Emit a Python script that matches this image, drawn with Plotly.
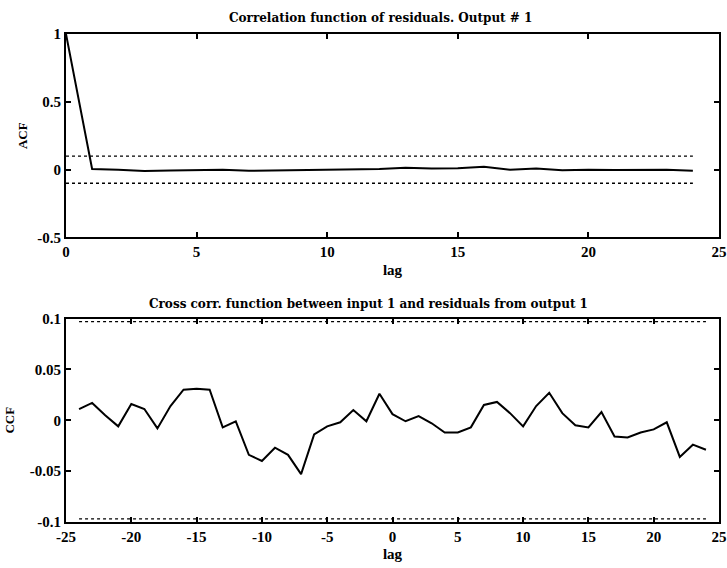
import plotly.graph_objects as go
from plotly.subplots import make_subplots

# --- data ---
ACF_LAGS = list(range(0, 25))
ACF_VALUES = [1.0, 0.005, 0.0, -0.01, -0.006, -0.004, 0.0, -0.008, -0.005, -0.005,
              -0.002, 0.003, 0.005, 0.015, 0.008, 0.01, 0.022, 0.0, 0.008, -0.004,
              0.0, -0.002, -0.002, 0.0, -0.008]
ACF_CONF = 0.1

CCF_LAGS = list(range(-24, 25))
CCF_VALUES = [0.011, 0.017, 0.005, -0.006, 0.016, 0.011, -0.008, 0.014, 0.030, 0.031,
              0.030, -0.007, -0.001, -0.034, -0.040, -0.027, -0.034, -0.053, -0.014, -0.006,
              -0.002, 0.010, -0.001, 0.026, 0.006, -0.001, 0.004, -0.003, -0.012, -0.012,
              -0.007, 0.015, 0.018, 0.007, -0.006, 0.014, 0.027, 0.007, -0.005, -0.007,
              0.008, -0.016, -0.017, -0.012, -0.009, -0.002, -0.036, -0.024, -0.029]
CCF_CONF = 0.097

TOP_XTICKS = [0, 5, 10, 15, 20, 25]
TOP_YTICKS = [-0.5, 0, 0.5, 1]
TOP_YTEXT = ["-0.5", "0", "0.5", "1"]
BOT_XTICKS = [-25, -20, -15, -10, -5, 0, 5, 10, 15, 20, 25]
BOT_XTEXT = ["-25", "-20", "-15", "-10", "-5", "0", "5", "10", "15", "20", "25"]
BOT_YTICKS = [-0.1, -0.05, 0, 0.05, 0.1]
BOT_YTEXT = ["-0.1", "-0.05", "0", "0.05", "0.1"]

TOP_TITLE = "Correlation function of residuals. Output # 1"
BOT_TITLE = "Cross corr. function between input 1 and residuals from output 1"

FONT = "Liberation Serif"
TITLE_FONT = "DejaVu Serif"
INK = "#000000"


def bold(labels):
    return [f"<b>{t}</b>" for t in labels]


fig = make_subplots(rows=2, cols=1, vertical_spacing=0.166)

# residual autocorrelation + confidence band
fig.add_trace(go.Scatter(x=ACF_LAGS, y=ACF_VALUES, mode="lines",
                         line=dict(color=INK, width=2)), row=1, col=1)
for c in (ACF_CONF, -ACF_CONF):
    fig.add_trace(go.Scatter(x=[ACF_LAGS[0], ACF_LAGS[-1]], y=[c, c], mode="lines",
                             line=dict(color=INK, width=1.3, dash="dot")), row=1, col=1)

# cross correlation + confidence band
fig.add_trace(go.Scatter(x=CCF_LAGS, y=CCF_VALUES, mode="lines",
                         line=dict(color=INK, width=2)), row=2, col=1)
for c in (CCF_CONF, -CCF_CONF):
    fig.add_trace(go.Scatter(x=[CCF_LAGS[0], CCF_LAGS[-1]], y=[c, c], mode="lines",
                             line=dict(color=INK, width=1.3, dash="dot")), row=2, col=1)

axis_common = dict(
    showline=True, linecolor=INK, linewidth=2, mirror="ticks",
    ticks="inside", ticklen=5, tickwidth=1.5, tickcolor=INK,
    showgrid=False, zeroline=False, automargin=False,
    tickfont=dict(family=FONT, size=15, color=INK),
)
fig.update_xaxes(ticklabeloverflow="allow", **axis_common)
fig.update_yaxes(**axis_common)

lag_font = dict(family=FONT, size=15, color=INK)
ylab_font = dict(family=FONT, size=13, color=INK)

fig.update_xaxes(range=[0, 25], tickvals=TOP_XTICKS, ticktext=bold(TOP_XTICKS),
                 title=dict(text="<b>lag</b>", standoff=5, font=lag_font), row=1, col=1)
fig.update_yaxes(range=[-0.5, 1], tickvals=TOP_YTICKS, ticktext=bold(TOP_YTEXT),
                 title=dict(text="<b>ACF</b>", standoff=7, font=ylab_font), row=1, col=1)
fig.update_xaxes(range=[-25, 25], tickvals=BOT_XTICKS, ticktext=bold(BOT_XTEXT),
                 title=dict(text="<b>lag</b>", standoff=4, font=lag_font), row=2, col=1)
fig.update_yaxes(range=[-0.1, 0.1], tickvals=BOT_YTICKS, ticktext=bold(BOT_YTEXT),
                 title=dict(text="<b>CCF</b>", standoff=12, font=ylab_font), row=2, col=1)

fig.update_layout(
    width=727, height=568,
    margin=dict(l=66, r=8, t=34, b=46),
    plot_bgcolor="#ffffff", paper_bgcolor="#ffffff",
    showlegend=False,
    font=dict(family=FONT, color=INK),
    annotations=[
        dict(text=f"<b>{TOP_TITLE}</b>", x=0.482, y=1.0,
             xref="paper", yref="paper", yanchor="bottom", yshift=7, showarrow=False,
             font=dict(family=TITLE_FONT, size=12, color=INK)),
        dict(text=f"<b>{BOT_TITLE}</b>", x=0.463, y=0.416,
             xref="paper", yref="paper", yanchor="bottom", yshift=6, showarrow=False,
             font=dict(family=TITLE_FONT, size=12, color=INK)),
    ],
)

# drop the browser's default 8px body margin so the figure fills the window
fig.write_html("out.html", config={"displayModeBar": False},
               post_script="document.body.style.margin = '0';")
